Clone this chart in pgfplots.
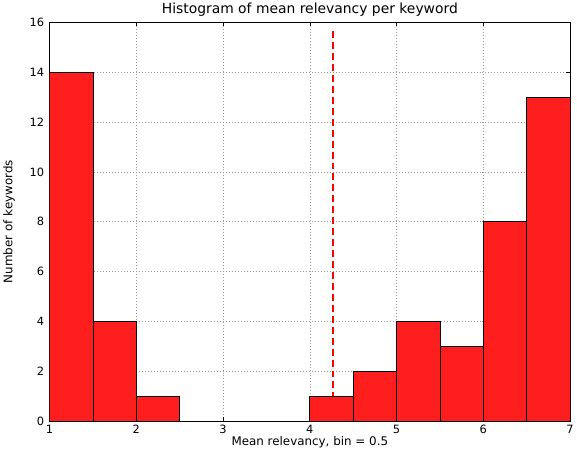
\documentclass[border=0pt]{standalone}
\usepackage{pgfplots}
\pgfplotsset{compat=1.18}
\usepackage{fontspec}
\setmainfont{DejaVu Sans}
\definecolor{barred}{RGB}{255,30,30}
\definecolor{dashred}{RGB}{255,0,0}
\begin{document}
\begin{tikzpicture}
\begin{axis}[
  scale only axis,
  width=523bp, height=401bp,
  xmin=1, xmax=7, ymin=0, ymax=16,
  xtick={1,2,...,7}, ytick={0,2,...,16},
  /pgf/number format/assume math mode=true,
  tick label style={font=\fontsize{11.5}{13}\selectfont},
  yticklabel style={xshift=-2bp},
  label style={font=\fontsize{12}{14}\selectfont},
  title style={font=\fontsize{14}{16}\selectfont, yshift=-4bp},
  title={Histogram of mean relevancy per keyword},
  xlabel={Mean relevancy, bin = 0.5},
  ylabel={Number of keywords},
  xlabel style={yshift=4bp},
  ylabel style={yshift=8bp},
  grid=major,
  major grid style={gray!80, dash pattern=on 1bp off 2bp, line width=0.6pt},
  tick align=inside,
  major tick length=4bp,
  axis line style={black, line width=0.8pt},
  tick style={black},
]
\addplot[draw=dashred, color=dashred, no marks, line width=1.8pt, dash pattern=on 7bp off 4bp] coordinates {(4.27,0) (4.27,15.75)};
\addplot[ybar interval, fill=barred, draw=black, line width=0.8pt] coordinates {
(1,14) (1.5,4) (2,1) (2.5,0) (3,0) (3.5,0) (4,1) (4.5,2) (5,4) (5.5,3) (6,8) (6.5,13) (7,13)};
\end{axis}
\end{tikzpicture}
\end{document}
